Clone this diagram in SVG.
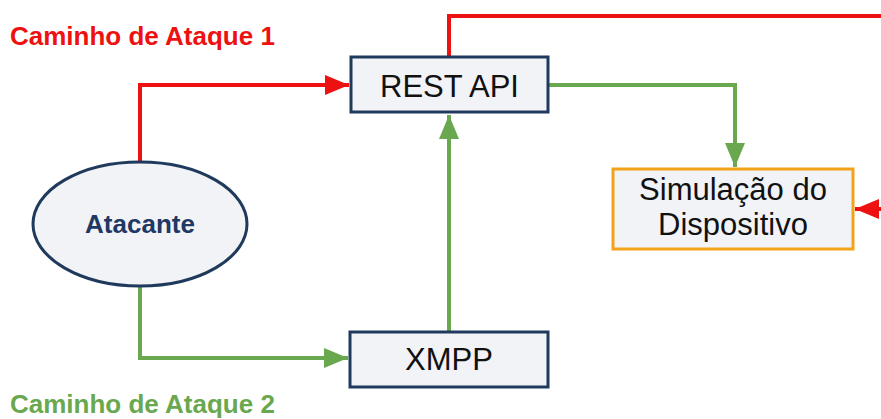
<svg xmlns="http://www.w3.org/2000/svg" width="881" height="419" viewBox="0 0 881 419">
  <style>
    .box { fill: #f1f3f6; stroke: #1f3a5c; stroke-width: 3; }
    .sim { fill: #f1f3f6; stroke: #f4a21a; stroke-width: 3; }
    .lbl { font-family: "Liberation Sans", Arial, sans-serif; font-size: 31px; fill: #111111; text-anchor: middle; }
    .red { fill: none; stroke: #ee1111; stroke-width: 4; }
    .green { fill: none; stroke: #6aa84f; stroke-width: 4; }
    .path-title { font-family: "Liberation Sans", Arial, sans-serif; font-size: 26px; font-weight: bold; }
  </style>
  <defs>
    <marker id="arrRed" markerUnits="userSpaceOnUse" markerWidth="26" markerHeight="24" refX="24" refY="12" orient="auto">
      <path d="M0,2 L24,12 L0,22 Z" fill="#ee1111"/>
    </marker>
    <marker id="arrGreen" markerUnits="userSpaceOnUse" markerWidth="26" markerHeight="24" refX="24" refY="12" orient="auto">
      <path d="M0,2 L24,12 L0,22 Z" fill="#6aa84f"/>
    </marker>
  </defs>

  <text class="path-title" x="10" y="45" fill="#ee1111">Caminho de Ataque 1</text>
  <text class="path-title" x="10" y="413" fill="#6aa84f">Caminho de Ataque 2</text>

  <g id="connectors">
    <path class="red" d="M140,162 V85 H349" marker-end="url(#arrRed)"/>
    <path class="red" d="M449,57 V16 H881"/>
    <path class="red" d="M881,209 H855" marker-end="url(#arrRed)"/>
    <path class="green" d="M140,286 V358 H348" marker-end="url(#arrGreen)"/>
    <path class="green" d="M449,332 V115" marker-end="url(#arrGreen)"/>
    <path class="green" d="M548,85 H735 V167" marker-end="url(#arrGreen)"/>
  </g>

  <g id="atacante">
    <ellipse class="box" cx="140" cy="224" rx="107" ry="62"/>
    <text x="140" y="233" font-family="Liberation Sans, Arial, sans-serif" font-size="26" font-weight="bold" fill="#1f3864" text-anchor="middle">Atacante</text>
  </g>

  <g id="rest-api">
    <rect class="box" x="351" y="57" width="197" height="55"/>
    <text class="lbl" x="449.5" y="97">REST API</text>
  </g>

  <g id="xmpp">
    <rect class="box" x="350" y="332" width="198" height="55"/>
    <text class="lbl" x="449" y="370">XMPP</text>
  </g>

  <g id="simulacao">
    <rect class="sim" x="613" y="169" width="240" height="80"/>
    <text class="lbl" x="733" y="200">Simulação do</text>
    <text class="lbl" x="733" y="235">Dispositivo</text>
  </g>
</svg>
